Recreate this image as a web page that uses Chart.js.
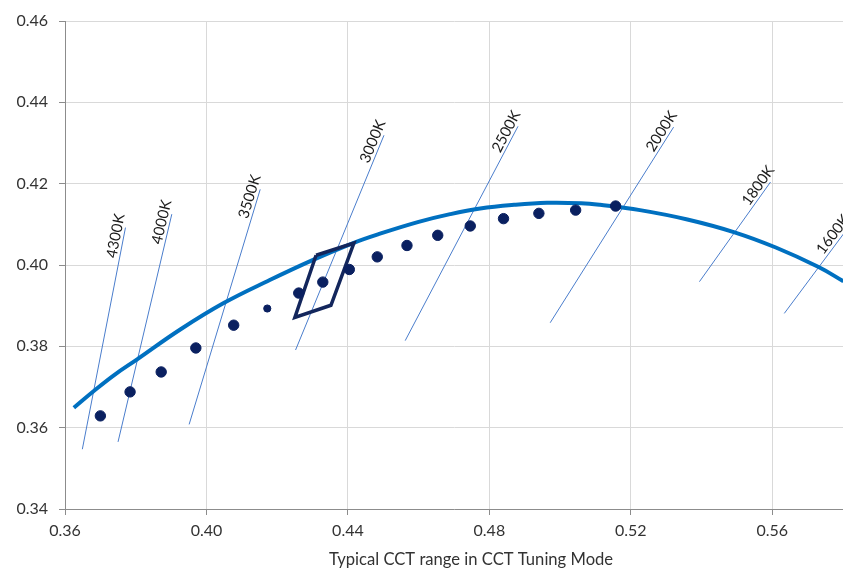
<!DOCTYPE html>
<html>
<head>
<meta charset="utf-8">
<script src="https://cdn.jsdelivr.net/npm/chart.js@4/dist/chart.umd.min.js"></script>
<style>
  html, body { margin: 0; padding: 0; background: #ffffff; overflow: hidden; }
  #wrap { width: 843px; height: 570px; }
</style>
</head>
<body>
<div id="wrap"><canvas id="chart" width="843" height="570"></canvas></div>
<script>
// Axis ticks
const xTicks = [0.36, 0.40, 0.44, 0.48, 0.52, 0.56];
const yTicks = [0.34, 0.36, 0.38, 0.40, 0.42, 0.44, 0.46];

// Planckian locus (blackbody curve)
const locusX = [0.3625, 0.3684, 0.3740, 0.3804, 0.3927, 0.4050, 0.4179, 0.4300, 0.4415, 0.4491, 0.4600, 0.4689,
                0.4774, 0.4870, 0.4963, 0.5060, 0.5113, 0.5226, 0.5360, 0.5491, 0.5610, 0.5731, 0.5801];
const locusY = [0.3649, 0.3692, 0.3730, 0.3768, 0.3842, 0.3907, 0.3963, 0.4012, 0.4054, 0.4077, 0.4106, 0.4125,
                0.4139, 0.4148, 0.4153, 0.4152, 0.4148, 0.4135, 0.4112, 0.4081, 0.4043, 0.3995, 0.3960];

// Iso-CCT lines
const isoLabels = ['4300K', '4000K', '3500K', '3000K', '2500K', '2000K', '1800K', '1600K'];
const isoTopX = [0.3771, 0.3902, 0.4152, 0.4502, 0.4881, 0.5321, 0.5595, 0.5807];
const isoTopY = [0.4092, 0.4125, 0.4186, 0.4319, 0.4341, 0.4339, 0.4204, 0.4083];
const isoBotX = [0.3649, 0.3750, 0.3951, 0.4252, 0.4562, 0.4972, 0.5394, 0.5634];
const isoBotY = [0.3547, 0.3565, 0.3608, 0.3791, 0.3814, 0.3858, 0.3959, 0.3881];

// Tuning points along the CCT range
const dotX = [0.3700, 0.3784, 0.3872, 0.3970, 0.4077, 0.4261, 0.4329, 0.4404, 0.4483, 0.4567, 0.4654,
              0.4746, 0.4840, 0.4940, 0.5044, 0.5157];
const dotY = [0.3629, 0.3688, 0.3737, 0.3796, 0.3852, 0.3931, 0.3958, 0.3989, 0.4020, 0.4048, 0.4073,
              0.4096, 0.4114, 0.4127, 0.4135, 0.4145];
const smallDotX = [0.4172];
const smallDotY = [0.3893];

// 3000K tolerance quadrangle
const quadX = [0.4310, 0.4417, 0.4352, 0.4250, 0.4310];
const quadY = [0.4024, 0.4054, 0.3901, 0.3871, 0.4024];

const xTitle = 'Typical CCT range in CCT Tuning Mode';

const pts = (xs, ys) => xs.map((v, i) => ({ x: v, y: ys[i] }));

const isoDatasets = isoLabels.map((name, i) => ({
  label: name,
  data: [{ x: isoBotX[i], y: isoBotY[i] }, { x: isoTopX[i], y: isoTopY[i] }],
  showLine: true,
  borderColor: '#4a7dcc',
  borderWidth: 1,
  pointRadius: 0,
  order: 5
}));

// Temperature labels written along the top end of each iso-CCT line
const isoLabelPlugin = {
  id: 'isoLabels',
  afterDatasetsDraw(chart) {
    const { ctx, scales: { x, y } } = chart;
    ctx.save();
    ctx.font = '15px Lato';
    ctx.fillStyle = '#1a1a1a';
    ctx.textAlign = 'center';
    ctx.textBaseline = 'middle';
    isoLabels.forEach((t, i) => {
      const tx = x.getPixelForValue(isoTopX[i]), ty = y.getPixelForValue(isoTopY[i]);
      const bx = x.getPixelForValue(isoBotX[i]), by = y.getPixelForValue(isoBotY[i]);
      const dx = tx - bx, dy = ty - by, len = Math.hypot(dx, dy);
      const ux = dx / len, uy = dy / len;
      const cx = tx - 10 * ux + 8 * uy;
      const cy = ty - 10 * uy - 8 * ux;
      ctx.save();
      ctx.translate(cx, cy);
      ctx.rotate(Math.atan2(dy, dx));
      ctx.fillText(t, 0, 0);
      ctx.restore();
    });
    ctx.restore();
  }
};

const xTitlePlugin = {
  id: 'xTitle',
  afterDraw(chart) {
    const { ctx, chartArea } = chart;
    ctx.save();
    ctx.font = '16.6px Lato';
    ctx.fillStyle = '#333333';
    ctx.textAlign = 'center';
    ctx.textBaseline = 'middle';
    ctx.fillText(xTitle, (chartArea.left + chartArea.right) / 2 + 17, chartArea.bottom + 51);
    ctx.restore();
  }
};

new Chart(document.getElementById('chart'), {
  type: 'scatter',
  data: {
    datasets: [
      {
        label: 'Tuning points',
        data: pts(dotX, dotY),
        backgroundColor: '#0a2060',
        borderColor: '#0a2060',
        pointRadius: 5.2,
        pointHoverRadius: 5.2,
        order: 1
      },
      {
        label: 'Tuning point (minor)',
        data: pts(smallDotX, smallDotY),
        backgroundColor: '#0a2060',
        borderColor: '#0a2060',
        pointRadius: 3.6,
        order: 1
      },
      {
        label: '3000K quadrangle',
        data: pts(quadX, quadY),
        showLine: true,
        borderColor: '#13265c',
        borderWidth: 3.5,
        borderJoinStyle: 'miter',
        pointRadius: 0,
        tension: 0,
        order: 2
      },
      {
        label: 'Planckian locus',
        data: pts(locusX, locusY),
        showLine: true,
        borderColor: '#0070c0',
        borderWidth: 4,
        pointRadius: 0,
        tension: 0.4,
        order: 3
      },
      ...isoDatasets
    ]
  },
  options: {
    responsive: false,
    animation: false,
    devicePixelRatio: 1,
    layout: { autoPadding: false, padding: { top: 21, right: 0, left: 0, bottom: 0 } },
    plugins: {
      legend: { display: false },
      tooltip: { enabled: false }
    },
    scales: {
      x: {
        type: 'linear',
        min: 0.36,
        max: 0.58,
        afterBuildTicks: (s) => { s.ticks = xTicks.map(v => ({ value: v })); },
        afterFit: (s) => { s.height = 61; s.paddingRight = 0; s.paddingLeft = 0; },
        grid: { color: '#d9d9d9', lineWidth: 1, tickColor: '#8c8c8c', tickLength: 6 },
        border: { display: true, color: '#8c8c8c', width: 1 },
        ticks: {
          font: { family: 'Lato', size: 16 },
          color: '#333333',
          padding: 6,
          maxRotation: 0,
          callback: (v) => v.toFixed(2)
        }
      },
      y: {
        type: 'linear',
        min: 0.34,
        max: 0.46,
        afterBuildTicks: (s) => { s.ticks = yTicks.map(v => ({ value: v })); },
        afterFit: (s) => { s.width = 65; },
        grid: { color: '#d9d9d9', lineWidth: 1, tickColor: '#8c8c8c', tickLength: 6 },
        border: { display: true, color: '#8c8c8c', width: 1 },
        ticks: {
          font: { family: 'Lato', size: 16 },
          color: '#333333',
          padding: 11,
          callback: (v) => v.toFixed(2)
        }
      }
    }
  },
  plugins: [isoLabelPlugin, xTitlePlugin]
});
</script>
</body>
</html>
